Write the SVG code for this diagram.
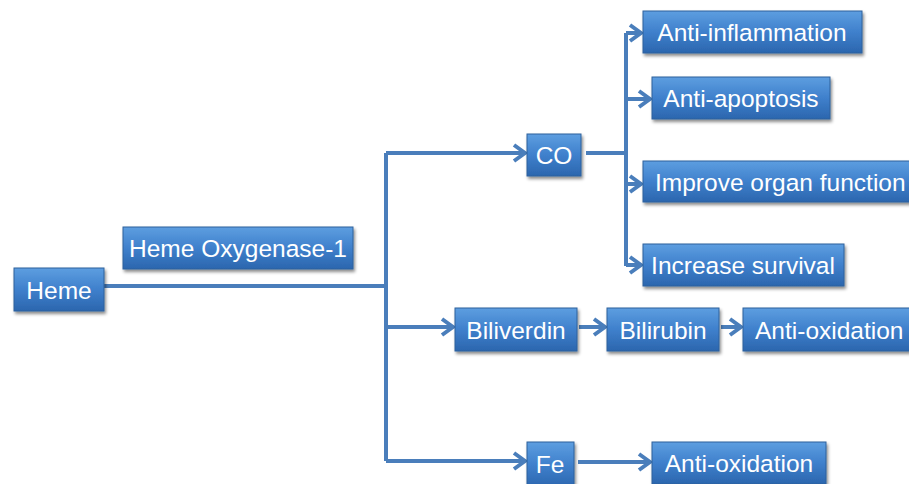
<svg xmlns="http://www.w3.org/2000/svg" width="909" height="484" viewBox="0 0 909 484">
<defs>
<linearGradient id="g" x1="0" y1="0" x2="0" y2="1">
<stop offset="0" stop-color="#5d9ee0"/>
<stop offset="0.5" stop-color="#3f80cc"/>
<stop offset="1" stop-color="#2b66ae"/>
</linearGradient>
<filter id="sh" x="-10%" y="-20%" width="130%" height="160%">
<feDropShadow dx="1.5" dy="2.5" stdDeviation="1.8" flood-color="#000" flood-opacity="0.45"/>
</filter>
<marker id="ah" markerUnits="userSpaceOnUse" markerWidth="16" markerHeight="20" viewBox="-2 -10 16 20" refX="11" refY="0" orient="auto">
<path d="M0,-8 L11,0 L0,8" fill="none" stroke="#4a7ebb" stroke-width="4" stroke-linejoin="miter"/>
</marker>
</defs>
<style>
.box{fill:url(#g);stroke:#2f609c;stroke-width:1;filter:url(#sh)}
.t{font-family:"Liberation Sans",Arial,sans-serif;font-size:24.5px;fill:#fff;text-anchor:middle;dominant-baseline:central}
.ts{text-anchor:start}
.c{fill:none;stroke:#4a7ebb;stroke-width:4}
</style>
<rect width="909" height="484" fill="#fff"/>
<g id="connectors">
<path class="c" d="M104,286 H386"/>
<path class="c" d="M386,153 V461"/>
<path class="c" d="M386,153 H525" marker-end="url(#ah)"/>
<path class="c" d="M386,327 H453" marker-end="url(#ah)"/>
<path class="c" d="M386,461 H525" marker-end="url(#ah)"/>
<path class="c" d="M586,153 H626"/>
<path class="c" d="M626,33 V266"/>
<path class="c" d="M626,33 H641" marker-end="url(#ah)"/>
<path class="c" d="M626,99 H650" marker-end="url(#ah)"/>
<path class="c" d="M626,184 H641" marker-end="url(#ah)"/>
<path class="c" d="M626,265 H641" marker-end="url(#ah)"/>
<path class="c" d="M579,327 H605" marker-end="url(#ah)"/>
<path class="c" d="M721,327 H741" marker-end="url(#ah)"/>
<path class="c" d="M578,462 H650" marker-end="url(#ah)"/>
</g>
<g id="heme"><rect class="box" x="14" y="268" width="90" height="43"/><text class="t" x="59" y="290">Heme</text></g>
<g id="ho1"><rect class="box" x="123" y="227" width="230" height="42"/><text class="t" x="238" y="248">Heme Oxygenase-1</text></g>
<g id="co"><rect class="box" x="527" y="134" width="54" height="42"/><text class="t" x="554" y="155">CO</text></g>
<g id="antiinflammation"><rect class="box" x="643" y="11" width="219" height="42"/><text class="t" x="752" y="32">Anti-inflammation</text></g>
<g id="antiapoptosis"><rect class="box" x="652" y="77" width="178" height="42"/><text class="t" x="741" y="98">Anti-apoptosis</text></g>
<g id="improve"><rect class="box" x="643" y="161" width="275" height="41"/><text class="t ts" x="655" y="182">Improve organ function</text></g>
<g id="survival"><rect class="box" x="643" y="244" width="201" height="42"/><text class="t" x="743" y="265">Increase survival</text></g>
<g id="biliverdin"><rect class="box" x="455" y="308" width="122" height="43"/><text class="t" x="516" y="330">Biliverdin</text></g>
<g id="bilirubin"><rect class="box" x="607" y="308" width="112" height="43"/><text class="t" x="663" y="330">Bilirubin</text></g>
<g id="antioxidation1"><rect class="box" x="743" y="308" width="175" height="43"/><text class="t ts" x="755" y="330">Anti-oxidation</text></g>
<g id="fe"><rect class="box" x="527" y="442" width="47" height="46"/><text class="t" x="550" y="464">Fe</text></g>
<g id="antioxidation2"><rect class="box" x="652" y="442" width="174" height="42"/><text class="t" x="739" y="463">Anti-oxidation</text></g>
</svg>
